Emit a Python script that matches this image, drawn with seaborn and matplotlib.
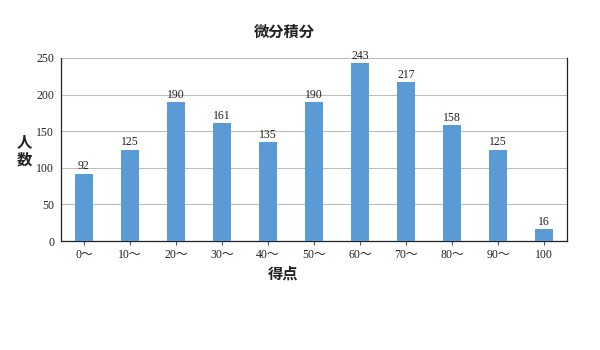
import matplotlib
matplotlib.use("Agg")
import matplotlib.pyplot as plt
import seaborn as sns
import pandas as pd

categories = ["0〜", "10〜", "20〜", "30〜", "40〜", "50〜", "60〜", "70〜", "80〜", "90〜", "100"]
counts = [92, 125, 190, 161, 135, 190, 243, 217, 158, 125, 16]
yticks = [0, 50, 100, 150, 200, 250]

sns.set_theme(style="white")
plt.rcParams['font.family'] = ['Liberation Serif', 'Noto Sans CJK JP']

df = pd.DataFrame({"score": categories, "count": counts})

fig = plt.figure(figsize=(6, 3.5), dpi=100)
ax = fig.add_axes([61/600, 1-241/350, (567-61)/600, (241-58)/350])

sns.barplot(data=df, x="score", y="count", color="#5B9BD5", width=0.4,
            saturation=1, linewidth=0, edgecolor="none", ax=ax, zorder=3)

ax.set_ylim(0, 250)
ax.set_yticks(yticks)
ax.yaxis.grid(True, color="#BDBDBD", linewidth=0.8, zorder=0)
ax.set_axisbelow(True)
ax.set_xlim(-0.5, len(categories) - 0.5)

for s in ["left", "bottom", "right"]:
    ax.spines[s].set_visible(True)
    ax.spines[s].set_color("#222222")
    ax.spines[s].set_linewidth(0.9)
ax.spines["top"].set_visible(False)

ax.tick_params(axis="x", which="both", bottom=True, length=3, width=0.8,
               color="#555555", labelsize=8.5, pad=3)
ax.tick_params(axis="y", left=False, length=0, labelsize=8.5, pad=5)
for lab in ax.get_xticklabels() + ax.get_yticklabels():
    lab.set_family(['Liberation Serif', 'Noto Sans CJK JP'])
    lab.set_color("#222222")

ax.bar_label(ax.containers[0], labels=[str(v) for v in counts], fontsize=8.5,
             padding=1, family=['Liberation Serif'], color="#222222")

ax.set_xlabel("")
ax.set_ylabel("")

cjk = ['Noto Sans CJK JP']
fig.text(284/600, 1-32/350, "微分積分", ha="center", va="center",
         fontsize=11, fontweight="bold", family=cjk, color="#222222")
fig.text(283/600, 1-274/350, "得点", ha="center", va="center",
         fontsize=11, fontweight="bold", family=cjk, color="#222222")
fig.text(24/600, 1-150/350, "人\n数", ha="center", va="center",
         fontsize=11, fontweight="bold", family=cjk, color="#222222", linespacing=1.2)

fig.savefig("out.png", dpi=100, facecolor="white")
